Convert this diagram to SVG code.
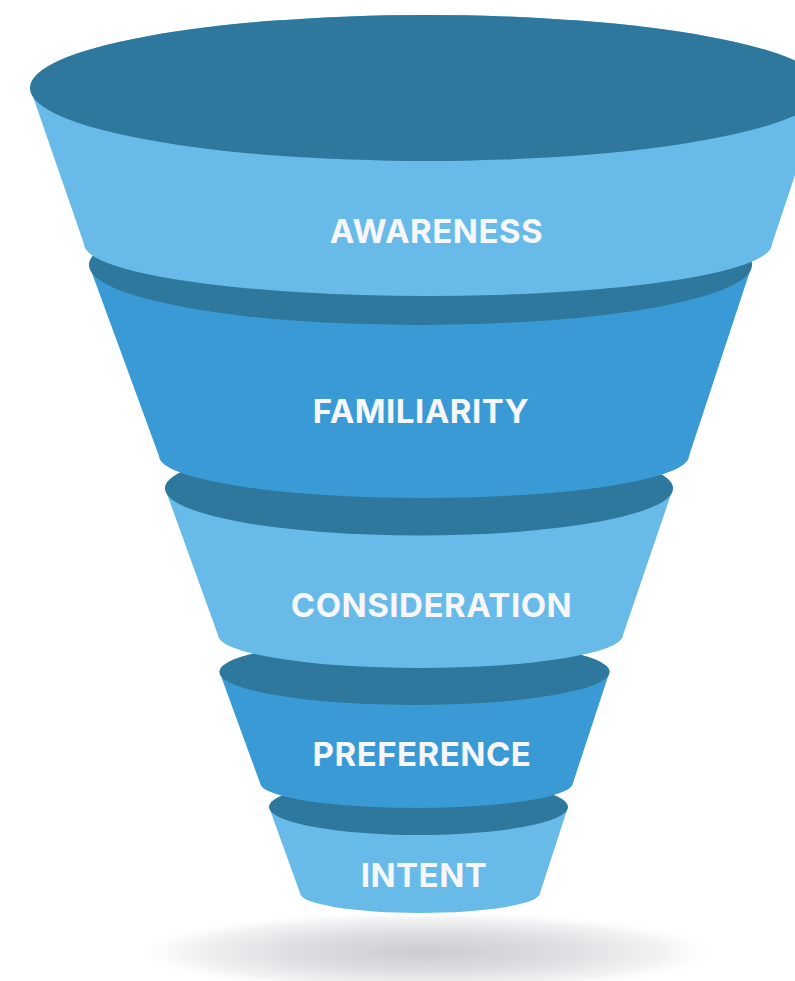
<svg xmlns="http://www.w3.org/2000/svg" width="795" height="981" viewBox="0 0 795 981">
  <defs>
    <radialGradient id="floorShadow" cx="0.5" cy="0.5" r="0.5">
      <stop offset="0" stop-color="#cacccf"/>
      <stop offset="0.45" stop-color="#dddee1"/>
      <stop offset="0.8" stop-color="#f2f3f4"/>
      <stop offset="1" stop-color="#ffffff" stop-opacity="0"/>
    </radialGradient>
  </defs>
  <style>
    .rim { fill: #2e789e; }
    .light { fill: #68bbe9; }
    .mid { fill: #3a9ad6; }
    .label { font-family: Inter, "Liberation Sans", sans-serif; font-weight: 700; font-size: 33px; letter-spacing: 0.5px; fill: #f7f7f9; text-anchor: middle; }
  </style>
  <rect width="795" height="981" fill="#ffffff"/>

  <!-- soft shadow under the funnel -->
  <ellipse cx="427" cy="952" rx="300" ry="42" fill="url(#floorShadow)"/>

  <!-- stages are painted bottom-up so each upper band overlaps the rim below it -->
  <g id="stage-intent">
    <path class="light" d="M269,807 L300,893 A120,20 0 0 0 540,893 L568,807 A149.5,28 0 0 0 269,807 Z"/>
    <ellipse class="rim" cx="418.5" cy="807" rx="149.5" ry="28"/>
    <text class="label" x="424" y="887">INTENT</text>
  </g>

  <g id="stage-preference">
    <path class="mid" d="M219.5,672 L260,783 A156.5,25 0 0 0 573,783 L609.5,672 A195,33 0 0 0 219.5,672 Z"/>
    <ellipse class="rim" cx="414.5" cy="672" rx="195" ry="33"/>
    <text class="label" x="422" y="766">PREFERENCE</text>
  </g>

  <g id="stage-consideration">
    <path class="light" d="M165,488.5 L218,635 A202.5,33 0 0 0 623,635 L673,488.5 A254,47 0 0 0 165,488.5 Z"/>
    <ellipse class="rim" cx="419" cy="488.5" rx="254" ry="47"/>
    <text class="label" x="431.5" y="617">CONSIDERATION</text>
  </g>

  <g id="stage-familiarity">
    <path class="mid" d="M89,265 L159,456 A265,42 0 0 0 689,456 L752,265 A331.5,60 0 0 0 89,265 Z"/>
    <ellipse class="rim" cx="420.5" cy="265" rx="331.5" ry="60"/>
    <text class="label" x="421" y="423">FAMILIARITY</text>
  </g>

  <g id="stage-awareness">
    <path class="light" d="M30,88 L84,244 A344,52 0 0 0 772,244 L824,88 A397,73 0 0 0 30,88 Z"/>
    <ellipse class="rim" cx="427" cy="88" rx="397" ry="73"/>
    <text class="label" x="436.5" y="243">AWARENESS</text>
  </g>

  <g id="connectors"/>
</svg>
